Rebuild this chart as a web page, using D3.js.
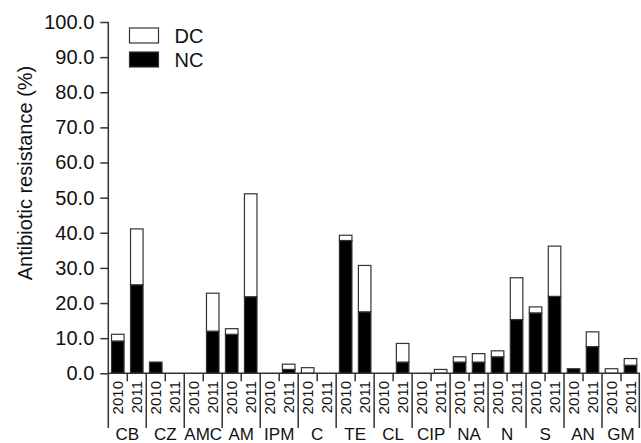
<!DOCTYPE html>
<html>
<head>
<meta charset="utf-8">
<script src="https://cdn.jsdelivr.net/npm/d3@7"></script>
<style>
  body { margin: 0; background: #fff; }
  text { font-family: "Liberation Sans", Arial, sans-serif; fill: #111; }
</style>
</head>
<body>
<script>
const categories = ["CB", "CZ", "AMC", "AM", "IPM", "C", "TE", "CL", "CIP", "NA", "N", "S", "AN", "GM"];
const years = ["2010", "2011"];
// one pair [2010, 2011] per category
const ncValues = [[9.2, 25.2], [3.2, 0], [0, 12.0], [11.1, 21.8], [0, 1.1], [0, 0], [37.8, 17.5],
  [0, 3.2], [0, 0], [3.2, 3.2], [4.7, 15.3], [17.2, 21.9], [1.3, 7.6], [0, 2.3]];
const dcValues = [[1.9, 15.9], [0, 0], [0, 10.8], [1.6, 29.3], [0, 1.5], [1.6, 0], [1.5, 13.2],
  [0, 5.3], [0, 1.1], [1.5, 2.4], [1.7, 11.9], [1.7, 14.3], [0, 4.2], [1.3, 1.9]];
const yTicks = [0, 10, 20, 30, 40, 50, 60, 70, 80, 90, 100];

function drawChart() {
  const width = 641;
  const height = 443;
  const left = 108.3, right = 640, top = 22, bottom = 373.3;

  const rows = [];
  categories.forEach((c, i) => {
    years.forEach((y, j) => {
      rows.push({key: c + "-" + y, cat: c, year: y, NC: ncValues[i][j], DC: dcValues[i][j]});
    });
  });

  const svg = d3.select("body").append("svg")
    .attr("width", width)
    .attr("height", height);

  const x = d3.scaleBand()
    .domain(rows.map(d => d.key))
    .range([left, right])
    .paddingInner(0.34)
    .paddingOuter(0.17);
  const step = x.step();
  const slotStart = k => left + step * rows.findIndex(d => d.key === k);

  const y = d3.scaleLinear().domain([0, 100]).range([bottom, top]);

  const stack = d3.stack().keys(["NC", "DC"]);
  const series = stack(rows);
  const fills = {NC: "#000", DC: "#fff"};

  svg.append("g").selectAll("g")
    .data(series)
    .enter()
    .append("g")
    .attr("fill", s => fills[s.key])
    .selectAll("rect")
    .data(s => s.filter(d => d[1] - d[0] > 0))
    .enter()
    .append("rect")
    .attr("x", d => x(d.data.key))
    .attr("width", x.bandwidth())
    .attr("y", d => y(d[1]))
    .attr("height", d => y(d[0]) - y(d[1]))
    .attr("stroke", "#333")
    .attr("stroke-width", 1.2);

  // y axis
  const yAxis = d3.axisLeft(y)
    .tickValues(yTicks)
    .tickFormat(d3.format(".1f"))
    .tickSize(8)
    .tickPadding(6);
  const gy = svg.append("g")
    .attr("transform", `translate(${left},0)`)
    .call(yAxis);
  gy.select(".domain").remove();
  gy.selectAll("line").attr("stroke", "#333").attr("stroke-width", 1.5);
  gy.selectAll("text")
    .style("font-size", "20px")
    .style("font-family", "Liberation Sans, Arial, sans-serif")
    .attr("fill", "#111");

  // vertical axis line running down through the label area
  svg.append("line")
    .attr("x1", left).attr("x2", left)
    .attr("y1", y(100)).attr("y2", 428)
    .attr("stroke", "#333").attr("stroke-width", 1.5);

  // baseline
  svg.append("line")
    .attr("x1", left).attr("x2", right)
    .attr("y1", bottom).attr("y2", bottom)
    .attr("stroke", "#333").attr("stroke-width", 1.5);

  // separators between slots: short within a category, long between categories
  const bounds = d3.range(1, rows.length + 1);
  svg.append("g").selectAll("line")
    .data(bounds)
    .enter()
    .append("line")
    .attr("x1", i => Math.min(left + step * i, right - 0.7))
    .attr("x2", i => Math.min(left + step * i, right - 0.7))
    .attr("y1", bottom)
    .attr("y2", i => i % 2 === 0 ? 428 : bottom + 8)
    .attr("stroke", "#333")
    .attr("stroke-width", 1.5);

  // year labels
  svg.append("g").selectAll("text")
    .data(rows)
    .enter()
    .append("text")
    .attr("transform", d => `translate(${slotStart(d.key) + step / 2 + 5.5},381) rotate(-90)`)
    .attr("text-anchor", "end")
    .style("font-size", "15px")
    .text(d => d.year);

  // category labels
  svg.append("g").selectAll("text")
    .data(categories)
    .enter()
    .append("text")
    .attr("x", (c, i) => left + step * (2 * i + 1))
    .attr("y", 440)
    .attr("text-anchor", "middle")
    .style("font-size", "17px")
    .text(c => c);

  // y label
  svg.append("text")
    .attr("transform", "translate(32,173) rotate(-90)")
    .attr("text-anchor", "middle")
    .style("font-size", "20px")
    .text("Antibiotic resistance (%)");

  // legend
  const legend = svg.append("g").selectAll("g")
    .data(["DC", "NC"])
    .enter()
    .append("g")
    .attr("transform", (d, i) => `translate(129.5,${28 + i * 24})`);
  legend.append("rect")
    .attr("width", 29)
    .attr("height", 15)
    .attr("fill", d => fills[d])
    .attr("stroke", "#333")
    .attr("stroke-width", 1.2);
  legend.append("text")
    .attr("x", 45)
    .attr("y", 15)
    .style("font-size", "20px")
    .text(d => d);
}

window.onload = drawChart;
</script>
</body>
</html>
